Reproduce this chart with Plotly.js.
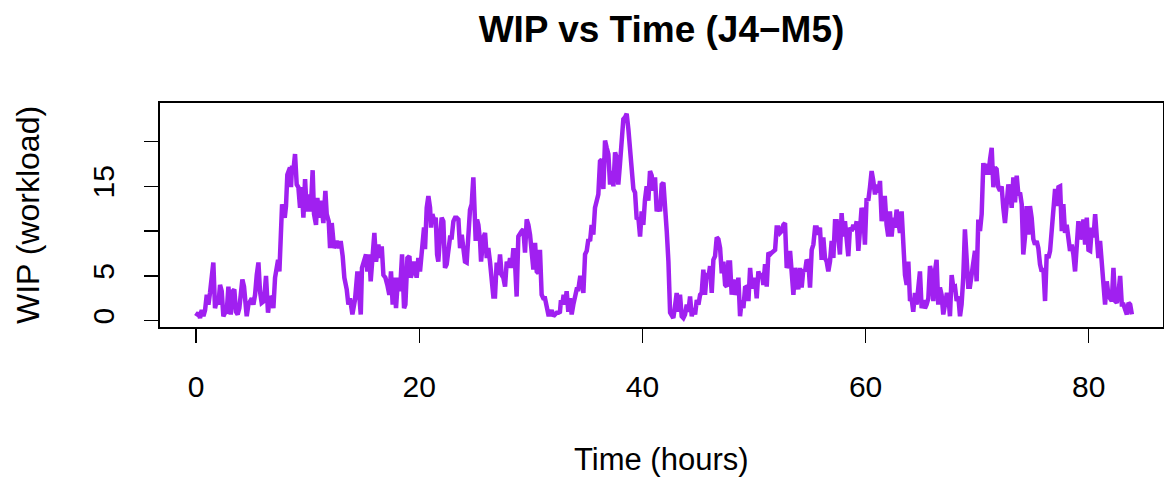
<!DOCTYPE html>
<html>
<head>
<meta charset="utf-8">
<script src="https://cdn.plot.ly/plotly-3.0.1.min.js"></script>
<style>html,body{margin:0;padding:0;background:#fff;}#chart{width:1164px;height:478px;}</style>
</head>
<body>
<div id="chart"></div>
<script>
// ---- Data (time in hours, WIP workload) ----
const hoursA = [0.00,0.21,0.36,0.51,0.66,0.81,0.96,1.11,1.25,1.40,1.55,1.70,1.85,2.00,2.15,2.30,2.45,2.60,2.75,2.90,3.05,3.11,3.29,3.43,3.58,3.73,3.88,4.03,4.15,4.30,4.42,4.54,4.69,4.84,4.99,5.14,5.29,5.44,5.59,5.73,5.88,6.09,6.27,6.45,6.63,6.78,6.93,7.08,7.23,7.35,7.47,7.59,7.71,7.83,7.95,8.06,8.18,8.30,8.42,8.51,8.60,8.72,8.87,9.02,9.17,9.32,9.47,9.62,9.77,9.92,10.10,10.27,10.45,10.57,10.75,10.87,11.05,11.20,11.41,11.59,11.71,11.89,12.01,12.16,12.37,12.60,12.81,12.96,13.14,13.29,13.50,13.65,13.80,14.01,14.25,14.46,14.64,14.76,14.87,15.05,15.23,15.35,15.53,15.65,15.83,15.98,16.13,16.34,16.49,16.64,16.79,16.97,17.14,17.32,17.47,17.62,17.77,17.92,18.10,18.28,18.46,18.64,18.76,18.94,19.12,19.24,19.41,19.53,19.77,19.92,20.07,20.25,20.43];
const wipA = [0.5,0.9,0.3,1.2,0.5,1.2,2.9,1.8,3.1,4.4,6.5,1.4,2.2,1.8,4.0,3.3,0.5,0.9,1.0,3.8,1.8,0.7,3.3,3.5,1.0,0.7,1.4,3.3,4.6,3.8,1.8,0.5,1.8,2.2,2.5,1.8,2.9,5.1,6.5,3.3,2.0,2.2,5.0,0.9,2.7,2.5,1.4,4.8,5.9,6.8,5.5,8.5,13.0,12.2,11.5,12.8,16.3,16.7,17.1,14.9,17.3,16.7,18.6,15.2,14.9,12.6,14.9,11.5,15.8,12.2,14.1,12.2,16.8,11.9,10.7,13.7,11.5,13.4,10.9,14.5,11.9,11.1,8.1,10.9,8.1,8.9,8.1,8.9,7.2,4.8,3.5,1.8,2.5,0.7,2.4,5.5,3.3,0.7,5.9,6.5,7.4,5.5,7.4,4.4,7.8,9.8,6.6,8.5,7.0,8.3,5.1,4.8,4.0,2.9,5.5,1.8,4.8,1.4,4.8,3.3,7.4,1.4,1.8,7.0,7.2,4.8,5.5,6.6,4.8,7.0,5.5,7.8,10.4];

const hoursB = [20.52,20.67,20.82,20.97,21.06,21.18,21.36,21.48,21.60,21.71,21.86,22.01,22.16,22.31,22.46,22.61,22.76,22.91,23.06,23.21,23.36,23.51,23.66,23.81,23.95,24.10,24.25,24.40,24.55,24.70,24.85,24.94,25.06,25.18,25.30,25.45,25.54,25.75,25.90,26.05,26.19,26.34,26.49,26.64,26.79,26.94,27.09,27.24,27.39,27.54,27.69,27.84,27.99,28.14,28.29,28.44,28.58,28.73,28.88,29.03,29.18,29.33,29.48,29.63,29.78,29.93,30.08,30.23,30.38,30.53,30.68,30.82,30.97,31.12,31.27,31.42,31.57,31.72,31.87,32.02,32.17,32.32,32.47,32.61,32.70,32.82,32.94,33.06,33.21,33.36,33.51,33.66,33.81,33.96,34.11,34.26,34.41,34.56,34.71,34.86,35.01,35.16,35.31,35.45,35.60,35.75,35.90,36.05,36.20,36.35,36.50,36.65,36.80,36.95,37.10,37.25,37.40,37.55,37.69,37.84,37.99,38.14,38.29,38.44,38.59,38.74,38.89,39.04,39.19,39.34,39.49,39.64,39.79,39.93,40.08,40.23,40.38,40.53,40.68,40.83,40.98,41.13,41.28,41.43,41.58,41.73,41.88];
const wipB = [8.0,12.6,13.9,12.6,10.4,11.9,11.1,11.5,7.4,6.6,9.3,11.5,11.1,5.9,6.3,8.5,9.3,9.3,11.1,11.5,11.5,11.3,8.1,9.6,7.8,6.6,6.5,10.0,12.4,13.0,16.0,13.0,8.9,11.3,10.7,8.9,6.6,9.3,9.8,7.0,8.1,6.6,4.0,2.7,2.7,6.5,5.1,7.4,5.1,4.8,3.8,6.6,5.9,7.0,5.9,8.1,6.6,2.7,9.4,9.8,10.0,10.2,7.6,11.3,10.7,9.6,8.1,5.7,8.7,5.5,5.3,7.9,2.9,2.5,2.5,1.4,0.7,0.7,1.2,0.5,0.7,0.9,0.9,1.0,2.3,1.8,2.9,1.8,3.3,1.0,2.5,0.7,1.8,2.9,3.5,3.5,4.8,4.8,3.1,7.4,7.8,9.1,8.9,10.7,9.6,12.6,13.4,14.1,17.8,18.0,14.7,20.1,19.3,18.6,15.2,16.7,15.0,18.8,18.2,15.2,17.5,21.0,22.5,22.7,23.1,21.4,19.3,18.0,14.7,14.3,11.3,11.5,9.4,12.2,10.7,13.5,15.0,13.4,16.7,16.2,14.5,16.0,12.2,12.8,12.2,15.2,15.4];

const hoursC = [42.18,42.33,42.48,42.63,42.77,42.92,43.07,43.22,43.37,43.52,43.67,43.82,43.97,44.12,44.27,44.42,44.57,44.72,44.87,45.02,45.17,45.31,45.46,45.61,45.76,45.91,46.06,46.21,46.36,46.51,46.66,46.81,46.96,47.11,47.26,47.41,47.56,47.70,47.85,48.00,48.15,48.30,48.45,48.60,48.75,48.90,49.05,49.20,49.35,49.50,49.65,49.79,49.94,50.09,50.24,50.39,50.54,50.69,50.84,50.99,51.14,51.29,51.44,51.59,51.74,51.89,52.03,52.18,52.33,52.48,52.63,52.78,52.93,53.08,53.23,53.38,53.53,53.68,53.82,53.97,54.12,54.27,54.42,54.57,54.72,54.87,55.02,55.17,55.32,55.47,55.62,55.77,55.91,56.06,56.21,56.36,56.51,56.66,56.81,56.96,57.11,57.26,57.41,57.56,57.70,57.85,58.00,58.15,58.30,58.45,58.60,58.75,58.90,59.05,59.20,59.35,59.50,59.64,59.79,59.94,60.09,60.24,60.39,60.54,60.69,60.84,60.99,61.14,61.29,61.44,61.59,61.73,61.88,62.03,62.18,62.33,62.48,62.63,62.78,62.93];
const wipC = [10.0,6.6,0.9,0.5,0.3,1.6,3.1,1.0,2.9,0.5,0.3,0.7,1.8,1.0,2.7,0.5,1.4,0.7,2.3,1.8,2.9,3.1,5.7,2.9,5.3,4.8,6.1,3.1,6.8,7.2,9.3,9.1,8.1,5.3,6.6,4.0,3.8,6.5,6.5,2.9,4.6,2.9,3.5,4.8,0.5,2.3,1.4,3.7,3.8,2.2,5.9,3.8,3.8,4.8,2.5,5.5,4.8,5.3,4.0,6.3,3.8,7.6,7.4,7.6,7.8,7.9,10.4,10.4,9.8,10.0,10.7,10.9,5.9,6.3,7.8,5.1,2.9,5.9,4.8,3.5,5.9,3.7,5.7,5.5,6.8,6.5,3.7,7.9,8.5,10.4,10.4,9.6,10.4,6.8,9.3,7.0,6.6,5.5,6.6,8.9,7.0,11.1,11.1,8.9,7.4,12.0,9.4,11.1,9.3,7.2,10.4,10.0,10.7,10.2,11.1,7.8,10.2,12.6,11.9,8.5,13.7,13.4,14.9,16.7,15.6,14.1,15.2,14.3,15.6,11.1,13.7,13.7,10.7,9.4,12.2,9.4,11.5,10.4,12.4,11.3];

const hoursD = [63.08,63.23,63.38,63.53,63.68,63.83,63.98,64.12,64.27,64.42,64.57,64.72,64.87,65.02,65.17,65.32,65.47,65.62,65.77,65.92,66.07,66.21,66.36,66.51,66.66,66.81,66.96,67.11,67.26,67.41,67.56,67.71,67.86,68.01,68.16,68.31,68.46,68.60,68.75,68.90,69.05,69.20,69.35,69.50,69.65,69.80,69.95,70.10,70.25,70.40,70.55,70.70,70.85,71.00,71.15,71.30,71.45,71.59,71.74,71.89,72.04,72.19,72.34,72.49,72.64,72.79,72.94,73.09,73.24,73.39,73.54,73.69,73.84,73.99,74.13,74.28,74.43,74.58,74.73,74.88,75.03,75.18,75.33,75.48,75.63,75.78,75.93,76.08,76.23,76.38,76.53,76.68,76.83,76.98,77.13,77.28,77.43,77.58,77.72,77.87,78.02,78.17,78.32,78.47,78.62,78.77,78.92,79.07,79.22,79.37,79.52,79.67,79.82,79.97,80.12,80.27,80.42,80.57,80.72,80.86,81.01,81.16,81.31,81.46,81.61,81.76,81.91,82.06,82.21,82.36,82.51,82.66,82.81,82.96,83.11,83.26,83.41,83.56,83.71,83.86];
const wipD = [9.8,12.2,7.4,5.1,4.0,6.6,2.2,2.5,1.0,3.1,1.8,3.3,5.5,1.4,2.3,1.4,1.8,2.5,6.1,5.3,2.2,5.5,6.8,1.8,3.7,2.9,0.7,1.8,2.9,2.9,0.5,5.1,3.7,3.8,2.2,2.7,0.5,1.8,4.8,10.2,6.6,3.8,3.8,5.1,6.8,7.8,4.4,11.3,10.0,11.9,17.6,16.3,17.5,16.3,18.0,19.3,14.9,17.1,16.9,14.9,14.5,15.0,12.6,10.9,13.0,15.2,14.5,12.6,16.0,13.2,16.2,14.1,14.3,13.0,7.4,9.3,12.8,9.6,12.8,11.5,9.1,8.5,8.9,8.1,6.3,5.5,5.9,2.2,7.4,7.0,7.8,10.7,12.6,14.7,12.8,14.9,15.0,10.0,13.0,9.8,10.7,8.7,7.8,8.5,7.4,5.5,9.3,11.1,9.1,9.6,11.3,8.5,11.5,7.9,7.8,10.4,9.3,11.9,9.3,7.0,8.9,6.3,5.1,1.8,4.4,2.9,2.5,2.2,5.9,2.2,2.0,3.1,5.0,1.8,1.8,1.0,0.7,2.0,1.8,0.7];

const xTickVals = [0, 20, 40, 60, 80];
const xTickText = ['0', '20', '40', '60', '80'];
const yTickVals = [0, 5, 10, 15, 20];
const yTickText = ['0', '5', '', '15', ''];

const titleText = 'WIP vs Time (J4\u2212M5)';
const xTitleText = 'Time (hours)';
const yTitleText = 'WIP (workload)';

// ---- Build ----
const hours = hoursA.concat(hoursB, hoursC, hoursD);
const wip = wipA.concat(wipB, wipC, wipD);

const FONT = 'Liberation Sans, Arial, Helvetica, sans-serif';

const trace = {
  x: hours, y: wip, type: 'scatter', mode: 'lines',
  line: {color: '#A020F0', width: 4.5, shape: 'linear'},
  hoverinfo: 'skip'
};

const layout = {
  width: 1164, height: 478,
  margin: {l: 160, r: 1, t: 103, b: 151, pad: 0},
  paper_bgcolor: '#ffffff', plot_bgcolor: '#ffffff',
  showlegend: false,
  font: {family: FONT, color: '#000000'},
  title: {text: '<b>' + titleText + '</b>', font: {family: FONT, size: 37, color: '#000'},
          x: 0.5, xref: 'paper', xanchor: 'center', y: 1 - 29/478, yref: 'container', yanchor: 'middle'},
  xaxis: {
    range: [-3.23, 86.65], tickvals: xTickVals, ticktext: xTickText,
    ticks: 'outside', ticklen: 14, tickwidth: 1.3, tickcolor: '#000',
    showline: true, mirror: true, linecolor: '#000', linewidth: 1.6,
    showgrid: false, zeroline: false,
    tickfont: {family: FONT, size: 30, color: '#000'},
    ticklabelstandoff: 18
  },
  yaxis: {
    range: [-0.7, 24.3], tickvals: yTickVals, ticktext: yTickText,
    ticks: 'outside', ticklen: 14, tickwidth: 1.3, tickcolor: '#000',
    showline: true, mirror: true, linecolor: '#000', linewidth: 1.6,
    showgrid: false, zeroline: false, tickangle: -90,
    tickfont: {family: FONT, size: 30, color: '#000'},
    ticklabelstandoff: 18
  },
  annotations: [
    {text: xTitleText, xref: 'paper', yref: 'paper', x: 0.5, y: -(459 - 327) / 224,
     xanchor: 'center', yanchor: 'middle', showarrow: false, font: {family: FONT, size: 31, color: '#000'}},
    {text: yTitleText, xref: 'paper', yref: 'paper', x: (28 - 160) / 1003, y: 0.5,
     xanchor: 'center', yanchor: 'middle', textangle: -90, showarrow: false, font: {family: FONT, size: 32, color: '#000'}}
  ]
};

Plotly.newPlot('chart', [trace], layout, {displayModeBar: false, staticPlot: true});
</script>
</body>
</html>
